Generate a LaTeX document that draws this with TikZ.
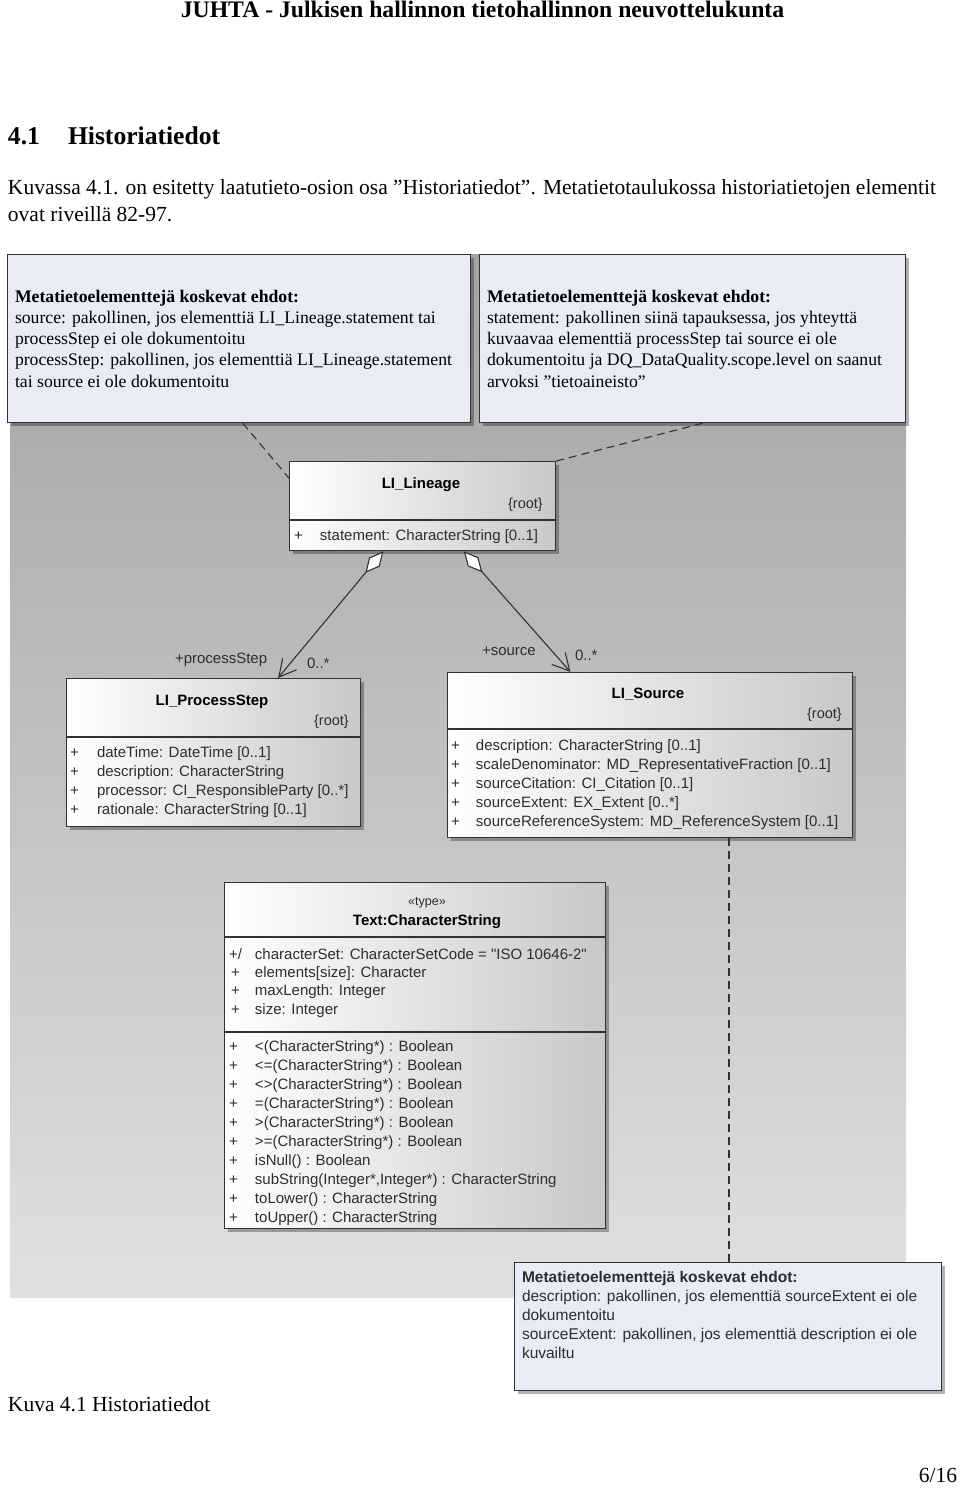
\documentclass[tikz,border=0pt]{standalone}
\usepackage{fontspec}
\setmainfont{Liberation Serif}
\newfontfamily\umlf{Liberation Sans}
\usetikzlibrary{arrows.meta,shadows,calc}

\definecolor{notefill}{RGB}{232,236,247}
\definecolor{boxline}{RGB}{50,50,50}
\definecolor{umltext}{RGB}{45,45,45}
\definecolor{bgtop}{RGB}{163,163,163}
\definecolor{bgbot}{RGB}{224,224,224}
\definecolor{clsright}{RGB}{200,200,200}

\begin{document}
\begin{tikzpicture}[x=1pt,y=-1pt,
  txt/.style={inner sep=0pt, outer sep=0pt, anchor=base west},
  serifbody/.style={txt, font=\fontsize{21.5}{28}\selectfont},
  notetxt/.style={txt, font=\fontsize{17.7}{21.3}\selectfont},
  notesans/.style={txt, font=\umlf\fontsize{15.5}{19}\selectfont, text=umltext},
  umltxt/.style={txt, font=\umlf\fontsize{15}{19}\selectfont, text=umltext},
  umltxttight/.style={txt, font=\umlf\fontsize{15}{18.3}\selectfont, text=umltext},
  umltitle/.style={inner sep=0pt, anchor=base, font=\umlf\bfseries\fontsize{15}{19}\selectfont},
  umlstereo/.style={inner sep=0pt, anchor=base, font=\umlf\fontsize{12.5}{15}\selectfont, text=umltext},
  umlroot/.style={inner sep=0pt, anchor=base east, font=\umlf\fontsize{14.5}{19}\selectfont, text=umltext},
  shadowed/.style={drop shadow={shadow xshift=3pt, shadow yshift=-3pt, opacity=0.3, fill=black}},
  notebox/.style={shadowed, draw=boxline, line width=1.3pt, fill=notefill, anchor=north west, inner sep=0pt},
  classbox/.style={shadowed, draw=boxline, line width=1.3pt, left color=white, right color=clsright, anchor=north west, inner sep=0pt},
  divider/.style={draw=boxline, line width=1.3pt},
  notelink/.style={draw=boxline, line width=1.1pt, dash pattern=on 8pt off 5pt},
  aggr/.style={draw=boxline, line width=1.1pt, {Diamond[fill=white,length=28pt,width=14pt]}-{Straight Barb[length=17pt,width=18pt]}},
  rolelbl/.style={txt, font=\umlf\fontsize{15}{19}\selectfont, text=umltext}
]
\useasboundingbox (0,0) rectangle (960,1490);

% page text
\node[txt, anchor=base, font=\bfseries\fontsize{23.7}{28}\selectfont] (hdr) at (482.5,17.5) {JUHTA - Julkisen hallinnon tietohallinnon neuvottelukunta};
\node[txt, font=\bfseries\fontsize{25.6}{30}\selectfont] (secnum) at (8,145) {4.1};
\node[txt, font=\bfseries\fontsize{25.6}{30}\selectfont] (sectitle) at (68,145) {Historiatiedot};
\node[serifbody] (body1) at (8,195) {Kuvassa 4.1. on esitetty laatutieto-osion osa ”Historiatiedot”. Metatietotaulukossa historiatietojen elementit};
\node[serifbody] (body2) at (8,222) {ovat riveillä 82-97.};
\node[serifbody] (cap) at (8,1411.5) {Kuva 4.1 Historiatiedot};
\node[serifbody, anchor=base east] (pg) at (957,1482) {6/16};

% diagram background
\path[top color=bgtop, bottom color=bgbot] (10,254) rectangle (906,1297);

% boxes
\node[notebox, minimum width=463pt, minimum height=168pt] (noteL) at (7,254) {};
\node[notebox, minimum width=426pt, minimum height=168pt] (noteR) at (479,254) {};
\node[classbox, minimum width=266pt, minimum height=89pt] (lin) at (289,461) {};
\node[classbox, minimum width=294pt, minimum height=148pt] (ps) at (66,678) {};
\node[classbox, minimum width=405pt, minimum height=165pt] (src) at (447,672) {};
\node[classbox, minimum width=381pt, minimum height=346pt] (cs) at (224,882) {};

% dashed note links
\draw[notelink] ($(noteL.south west)!0.508!(noteL.south east)$) -- ($(lin.north west)!0.19!(lin.south west)$);
\draw[notelink] ($(noteR.south west)!0.523!(noteR.south east)$) -- (lin.north east);
\coordinate (srcdash) at ($(src.south west)!0.694!(src.south east)$);

\node[notebox, minimum width=427pt, minimum height=128pt] (noteB) at (514,1262) {};
\draw[notelink] (srcdash) -- (srcdash |- noteB.north);

% note texts
\node[notetxt] (noteLt) at (15,302) {\begin{tabular}[t]{@{}l@{}}\textbf{Metatietoelementtejä koskevat ehdot:}\\
source: pakollinen, jos elementtiä LI\_Lineage.statement tai\\
processStep ei ole dokumentoitu\\
processStep: pakollinen, jos elementtiä LI\_Lineage.statement\\
tai source ei ole dokumentoitu\end{tabular}};
\node[notetxt] (noteRt) at (487,302) {\begin{tabular}[t]{@{}l@{}}\textbf{Metatietoelementtejä koskevat ehdot:}\\
statement: pakollinen siinä tapauksessa, jos yhteyttä\\
kuvaavaa elementtiä processStep tai source ei ole\\
dokumentoitu ja DQ\_DataQuality.scope.level on saanut\\
arvoksi ”tietoaineisto”\end{tabular}};
\node[notesans] (noteBt) at (522,1282.5) {\begin{tabular}[t]{@{}l@{}}\textbf{Metatietoelementtejä koskevat ehdot:}\\
description: pakollinen, jos elementtiä sourceExtent ei ole\\
dokumentoitu\\
sourceExtent: pakollinen, jos elementtiä description ei ole\\
kuvailtu\end{tabular}};

% LI_Lineage
\draw[divider] ($(lin.north west)+(0,59)$) -- ($(lin.north east)+(0,59)$);
\node[umltitle] (linT) at (421,488.4) {LI\_Lineage};
\node[umlroot] (linR) at (543,508.3) {\{root\}};
\node[umltxt] (linA) at (294,540.3) {\begin{tabular}[t]{@{}l@{}}\makebox[26pt][l]{+}statement: CharacterString [0..1]\end{tabular}};

% LI_ProcessStep
\draw[divider] ($(ps.north west)+(0,59)$) -- ($(ps.north east)+(0,59)$);
\node[umltitle] (psT) at (212,705.4) {LI\_ProcessStep};
\node[umlroot] (psR) at (349,725.3) {\{root\}};
\node[umltxt] (psA) at (70,757.3) {\begin{tabular}[t]{@{}l@{}}\makebox[27pt][l]{+}dateTime: DateTime [0..1]\\
\makebox[27pt][l]{+}description: CharacterString\\
\makebox[27pt][l]{+}processor: CI\_ResponsibleParty [0..*]\\
\makebox[27pt][l]{+}rationale: CharacterString [0..1]\end{tabular}};

% LI_Source
\draw[divider] ($(src.north west)+(0,57)$) -- ($(src.north east)+(0,57)$);
\node[umltitle] (srcT) at (648,698.4) {LI\_Source};
\node[umlroot] (srcR) at (842,718.3) {\{root\}};
\node[umltxt] (srcA) at (451,750.3) {\begin{tabular}[t]{@{}l@{}}\makebox[25pt][l]{+}description: CharacterString [0..1]\\
\makebox[25pt][l]{+}scaleDenominator: MD\_RepresentativeFraction [0..1]\\
\makebox[25pt][l]{+}sourceCitation: CI\_Citation [0..1]\\
\makebox[25pt][l]{+}sourceExtent: EX\_Extent [0..*]\\
\makebox[25pt][l]{+}sourceReferenceSystem: MD\_ReferenceSystem [0..1]\end{tabular}};

% Text:CharacterString
\draw[divider] ($(cs.north west)+(0,55)$) -- ($(cs.north east)+(0,55)$);
\draw[divider] ($(cs.north west)+(0,150)$) -- ($(cs.north east)+(0,150)$);
\node[umlstereo] (csS) at (427,905) {«type»};
\node[umltitle] (csT) at (427,925.4) {Text:CharacterString};
\node[umltxttight] (csA) at (229,959.3) {\begin{tabular}[t]{@{}l@{}}\makebox[26pt][l]{+/}characterSet: CharacterSetCode = "ISO 10646-2"\\
\makebox[26pt][l]{\hspace{2pt}+}elements[size]: Character\\
\makebox[26pt][l]{\hspace{2pt}+}maxLength: Integer\\
\makebox[26pt][l]{\hspace{2pt}+}size: Integer\end{tabular}};
\node[umltxt] (csO) at (229,1051.3) {\begin{tabular}[t]{@{}l@{}}\makebox[26pt][l]{+}<(CharacterString*) : Boolean\\
\makebox[26pt][l]{+}<=(CharacterString*) : Boolean\\
\makebox[26pt][l]{+}<>(CharacterString*) : Boolean\\
\makebox[26pt][l]{+}=(CharacterString*) : Boolean\\
\makebox[26pt][l]{+}>(CharacterString*) : Boolean\\
\makebox[26pt][l]{+}>=(CharacterString*) : Boolean\\
\makebox[26pt][l]{+}isNull() : Boolean\\
\makebox[26pt][l]{+}subString(Integer*,Integer*) : CharacterString\\
\makebox[26pt][l]{+}toLower() : CharacterString\\
\makebox[26pt][l]{+}toUpper() : CharacterString\end{tabular}};

% aggregations
\draw[aggr] ($(lin.south west)!0.353!(lin.south east)$) -- ($(ps.north west)!0.718!(ps.north east)$);
\draw[aggr] ($(lin.south west)!0.654!(lin.south east)$) -- ($(src.north west)!0.304!(src.north east)$);
\node[rolelbl] (psRole) at (175,663) {+processStep};
\node[rolelbl] (psMult) at (307,668) {0..*};
\node[rolelbl] (srcRole) at (482,655) {+source};
\node[rolelbl] (srcMult) at (575,660) {0..*};
\end{tikzpicture}
\end{document}
